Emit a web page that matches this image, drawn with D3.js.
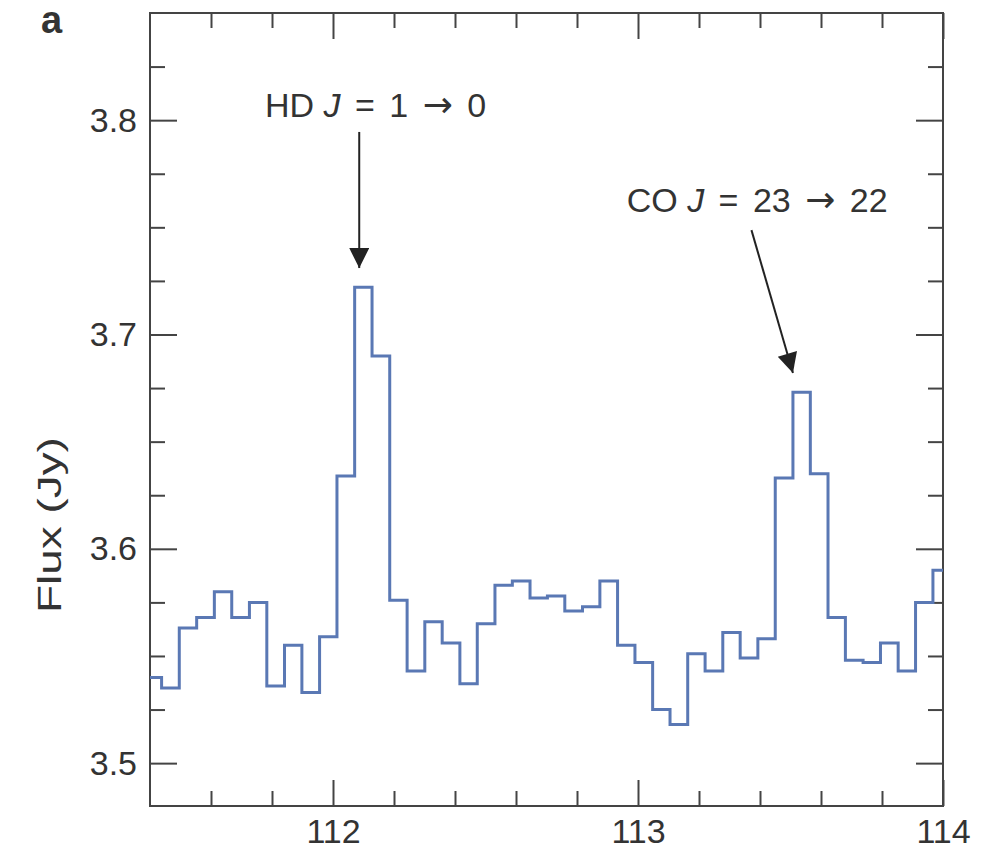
<!doctype html>
<html>
<head>
    <style>
        body { margin: 0; background: #fff; }
        text { font-family: 'Liberation Sans', Arial, Helvetica, sans-serif; fill: #333; }
    </style>
    <script src="https://d3js.org/d3.v7.min.js"></script>
</head>
<body>
    <script>
        // bin left edges (GHz) - first entry is the left plot limit
        var freq = [111.4, 111.438, 111.496, 111.553, 111.611, 111.668, 111.726, 111.783, 111.841, 111.898, 111.956,
            112.013, 112.071, 112.128, 112.186, 112.243, 112.301, 112.358, 112.416, 112.473, 112.531,
            112.588, 112.646, 112.703, 112.760, 112.818, 112.875, 112.933, 112.990, 113.048, 113.105,
            113.163, 113.220, 113.278, 113.335, 113.393, 113.450, 113.508, 113.565, 113.623, 113.680,
            113.738, 113.795, 113.853, 113.910, 113.967, 114.0];
        // flux (Jy) in each bin, last value repeated to close the final step
        var flux = [3.540, 3.535, 3.563, 3.568, 3.580, 3.568, 3.575, 3.536, 3.555, 3.533, 3.559,
            3.634, 3.722, 3.690, 3.576, 3.543, 3.566, 3.556, 3.537, 3.565, 3.583,
            3.585, 3.577, 3.578, 3.571, 3.573, 3.585, 3.555, 3.547, 3.525, 3.518,
            3.551, 3.543, 3.561, 3.549, 3.558, 3.633, 3.673, 3.635, 3.568, 3.548,
            3.547, 3.556, 3.543, 3.575, 3.590, 3.590];

        var xTicks = [112, 113, 114];
        var xMinor = [111.6, 111.8, 112.2, 112.4, 112.6, 112.8, 113.2, 113.4, 113.6, 113.8];
        var yTicks = [3.5, 3.6, 3.7, 3.8];
        var yMinor = [3.525, 3.55, 3.575, 3.625, 3.65, 3.675, 3.725, 3.75, 3.775, 3.825];

        // line labels and arrows, in data units
        var notes = [
            { pre: "HD ", j: "J", mid: " = 1 ", post: " 0", lx: 111.777, ly: 3.8015, x1: 112.086, y1: 3.7945, x2: 112.086, y2: 3.731 },
            { pre: "CO ", j: "J", mid: " = 23 ", post: " 22", lx: 112.963, ly: 3.757, x1: 113.372, y1: 3.7487, x2: 113.508, y2: 3.682 }
        ];

        var W = 993, H = 849;
        var m = { top: 13, right: 50, bottom: 43, left: 150 };
        var w = W - m.left - m.right, h = H - m.top - m.bottom;

        var svg = d3.select("body").append("svg").attr("width", W).attr("height", H);
        svg.append("defs").append("marker")
            .attr("id", "head")
            .attr("viewBox", "0 0 10 10")
            .attr("refX", 10).attr("refY", 5)
            .attr("markerWidth", 24).attr("markerHeight", 20)
            .attr("markerUnits", "userSpaceOnUse")
            .attr("orient", "auto")
          .append("path")
            .attr("d", "M0,0 L10,5 L0,10 Z")
            .attr("fill", "#222");

        var g = svg.append("g").attr("transform", "translate(" + m.left + "," + m.top + ")");

        var x = d3.scaleLinear().domain([111.4, 114]).range([0, w]);
        var y = d3.scaleLinear().domain([3.48, 3.85]).range([h, 0]);

        function styleAxis(sel) {
            sel.select(".domain").remove();
            sel.selectAll("line").attr("stroke", "#444").attr("stroke-width", 2);
            sel.selectAll("text").attr("fill", "#333").style("font-size", "34px");
        }

        // bottom + top
        g.append("g").attr("transform", "translate(0," + h + ")")
            .call(d3.axisBottom(x).tickValues(xTicks).tickSize(-26).tickPadding(13).tickFormat(d3.format("d")))
            .call(styleAxis);
        g.append("g").attr("transform", "translate(0," + h + ")")
            .call(d3.axisBottom(x).tickValues(xMinor).tickSize(-15).tickFormat(""))
            .call(styleAxis);
        g.append("g")
            .call(d3.axisTop(x).tickValues(xTicks).tickSize(-26).tickFormat(""))
            .call(styleAxis);
        g.append("g")
            .call(d3.axisTop(x).tickValues(xMinor).tickSize(-15).tickFormat(""))
            .call(styleAxis);

        // left + right
        g.append("g")
            .call(d3.axisLeft(y).tickValues(yTicks).tickSize(-27).tickPadding(13).tickFormat(d3.format(".1f")))
            .call(styleAxis);
        g.append("g")
            .call(d3.axisLeft(y).tickValues(yMinor).tickSize(-15).tickFormat(""))
            .call(styleAxis);
        g.append("g").attr("transform", "translate(" + w + ",0)")
            .call(d3.axisRight(y).tickValues(yTicks).tickSize(-27).tickFormat(""))
            .call(styleAxis);
        g.append("g").attr("transform", "translate(" + w + ",0)")
            .call(d3.axisRight(y).tickValues(yMinor).tickSize(-15).tickFormat(""))
            .call(styleAxis);

        // frame
        g.append("rect")
            .attr("width", w).attr("height", h)
            .attr("fill", "none").attr("stroke", "#444").attr("stroke-width", 2);

        // spectrum
        var line = d3.line()
            .x(function(d, i) { return x(freq[i]); })
            .y(function(d) { return y(d); })
            .curve(d3.curveStepAfter);
        g.append("path")
            .datum(flux)
            .attr("d", line)
            .attr("fill", "none")
            .attr("stroke", "#5a78b4")
            .attr("stroke-width", 3);

        // annotations
        notes.forEach(function(n) {
            var t = g.append("text")
                .attr("x", x(n.lx)).attr("y", y(n.ly))
                .style("font-size", "34px");
            t.append("tspan").text(n.pre);
            t.append("tspan").style("font-style", "italic").text(n.j);
            t.append("tspan").style("word-spacing", "5px").text(n.mid);
            t.append("tspan").style("font-family", "'DejaVu Sans'").style("font-size", "36px").text("\u2192");
            t.append("tspan").style("word-spacing", "5px").text(n.post);
            g.append("line")
                .attr("x1", x(n.x1)).attr("y1", y(n.y1))
                .attr("x2", x(n.x2)).attr("y2", y(n.y2))
                .attr("stroke", "#222").attr("stroke-width", 2)
                .attr("marker-end", "url(#head)");
        });

        // y label (stretched along its length like the original)
        svg.append("text")
            .attr("transform", "translate(61,613) rotate(-90) scale(1.35,1)")
            .attr("text-anchor", "start")
            .style("font-size", "34px")
            .text("Flux (Jy)");

        // panel letter
        svg.append("text")
            .attr("x", 41).attr("y", 33)
            .style("font-size", "38px").style("font-weight", "bold")
            .attr("fill", "#222")
            .text("a");
    </script>
</body>
</html>
